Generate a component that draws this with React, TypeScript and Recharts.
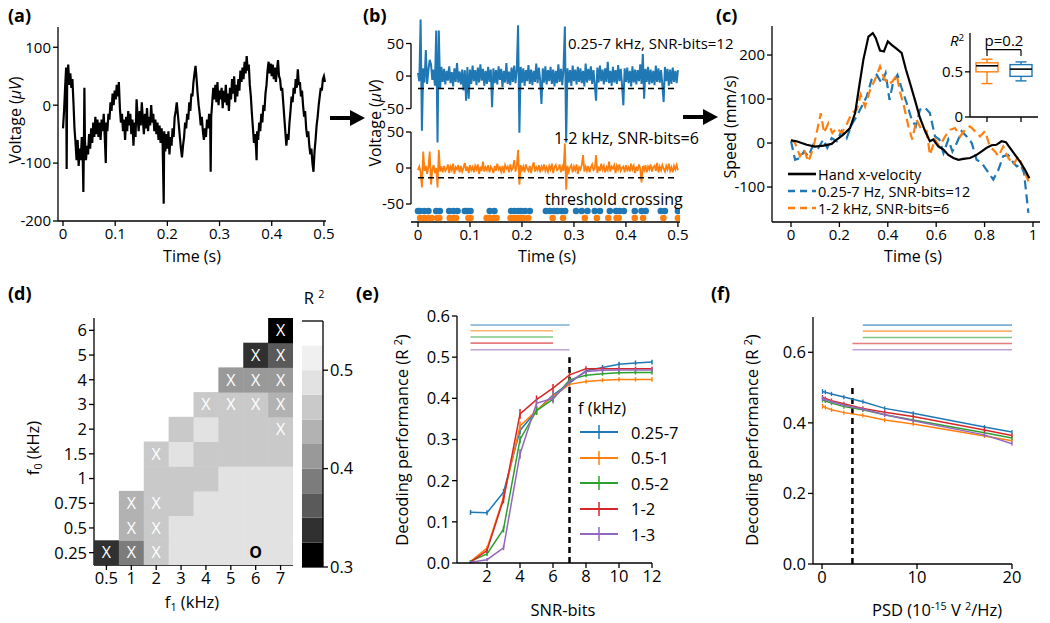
import type { ReactNode } from 'react'
import {
	Bar,
	BarChart,
	ComposedChart,
	ErrorBar,
	Line,
	LineChart,
	ReferenceLine,
	Scatter,
	ScatterChart,
	XAxis,
	YAxis
} from 'recharts'

const FONT = '"Open Sans", "Noto Sans", sans-serif'
const BLUE = '#1f77b4'
const ORANGE = '#ff7f0e'
const GREEN = '#2ca02c'
const RED = '#d62728'
const PURPLE = '#9467bd'
const SERIES_COLORS = [BLUE, ORANGE, GREEN, RED, PURPLE]
const TICK_TOP = 15
const TICK_BOT = 16.5

// ---------- (a) raw voltage trace: [time s, voltage uV]
const traceA: [number, number][] = [
	[0, -40], [0.002, -10], [0.004, 30], [0.006, 65], [0.007, -110], [0.008, 45], [0.01, 70], [0.012, 35],
	[0.014, 55], [0.016, 30], [0.018, 45], [0.02, 5], [0.022, -40], [0.024, -65], [0.026, -95], [0.028, -60],
	[0.03, -105], [0.032, -75], [0.034, -95], [0.036, -55], [0.038, -100], [0.039, -150], [0.04, -70], [0.041, 30],
	[0.042, -60], [0.044, -95], [0.046, -70], [0.048, -85], [0.05, -50], [0.052, -75], [0.054, -40], [0.056, -65],
	[0.058, -30], [0.06, -55], [0.062, -20], [0.064, -50], [0.066, -25], [0.068, -55], [0.07, -30], [0.072, -60],
	[0.074, -25], [0.076, -45], [0.078, -15], [0.08, -55], [0.082, -100], [0.083, -30], [0.085, -45], [0.087, -15],
	[0.089, -25], [0.091, 5], [0.093, -10], [0.095, 20], [0.097, 0], [0.099, 25], [0.101, 10], [0.103, 35],
	[0.105, 15], [0.107, 40], [0.109, -5], [0.111, -30], [0.113, -15], [0.115, -45], [0.117, -25], [0.119, -60],
	[0.121, -20], [0.123, -45], [0.125, -10], [0.127, -35], [0.129, -15], [0.131, -50], [0.133, -25], [0.135, -70],
	[0.137, -30], [0.139, -55], [0.141, 10], [0.143, -20], [0.145, -45], [0.147, -10], [0.149, -35], [0.151, 5],
	[0.153, -25], [0.155, -50], [0.157, -15], [0.159, -40], [0.161, -5], [0.163, -45], [0.165, -20], [0.167, -35],
	[0.169, 0], [0.171, -30], [0.173, -15], [0.175, -45], [0.177, -25], [0.179, -50], [0.181, -30], [0.183, -60],
	[0.185, -35], [0.187, -65], [0.189, -40], [0.191, -70], [0.193, -170], [0.194, -45], [0.196, -80], [0.198, -50],
	[0.2, -75], [0.202, -45], [0.204, -85], [0.206, -55], [0.208, -70], [0.21, -40], [0.212, -55], [0.214, -20],
	[0.216, -10], [0.218, 5], [0.22, -15], [0.222, -35], [0.224, -55], [0.226, -75], [0.228, -90], [0.23, -70],
	[0.232, -55], [0.234, -30], [0.236, -40], [0.238, -15], [0.24, -25], [0.242, 5], [0.244, -10], [0.246, 20],
	[0.248, 15], [0.25, 40], [0.252, 55], [0.254, 68], [0.256, 45], [0.258, 20], [0.26, 0], [0.262, -15],
	[0.264, -35], [0.266, -20], [0.268, -45], [0.27, -60], [0.272, -40], [0.274, -55], [0.276, -25], [0.278, -40],
	[0.28, -15], [0.282, -30], [0.283, -115], [0.284, -20], [0.286, 5], [0.288, 30], [0.29, 10], [0.292, 35],
	[0.294, 5], [0.296, 40], [0.298, 0], [0.3, 25], [0.302, 10], [0.304, 30], [0.306, -5], [0.308, 25],
	[0.31, 5], [0.312, 35], [0.314, 0], [0.316, 20], [0.318, -10], [0.32, 30], [0.322, 10], [0.324, 45],
	[0.326, 20], [0.328, 50], [0.33, 5], [0.332, 35], [0.334, 15], [0.336, 45], [0.338, 25], [0.34, 60],
	[0.342, 40], [0.344, 65], [0.346, 45], [0.348, 75], [0.35, 55], [0.352, 85], [0.354, 60], [0.356, 70],
	[0.358, 35], [0.36, 15], [0.362, -15], [0.364, -40], [0.366, -65], [0.368, -50], [0.37, -75], [0.371, -95],
	[0.372, -45], [0.374, -60], [0.376, -30], [0.378, -45], [0.38, -15], [0.382, -30], [0.384, 0], [0.386, -10],
	[0.388, 20], [0.39, 35], [0.392, 60], [0.394, 75], [0.396, 55], [0.398, 72], [0.4, 50], [0.402, 70],
	[0.404, 45], [0.406, 65], [0.408, 40], [0.41, 60], [0.412, 78], [0.414, 50], [0.416, 45], [0.418, 25],
	[0.42, 30], [0.422, 5], [0.424, -20], [0.426, -45], [0.428, -70], [0.43, -50], [0.432, -60], [0.434, -30],
	[0.436, -10], [0.438, 15], [0.44, 5], [0.442, 30], [0.444, 20], [0.446, 45], [0.448, 30], [0.45, 62],
	[0.452, 35], [0.454, 40], [0.456, 15], [0.458, 25], [0.46, 0], [0.462, -20], [0.464, -10], [0.466, -40],
	[0.468, -55], [0.47, -45], [0.472, -70], [0.474, -85], [0.476, -75], [0.478, -100], [0.48, -115], [0.482, -80],
	[0.484, -60], [0.486, -35], [0.488, -20], [0.49, 0], [0.492, 15], [0.494, 30], [0.496, 25], [0.498, 45],
	[0.5, 50], [0.502, 40]
]
const timeTicks = [0, 0.1, 0.2, 0.3, 0.4, 0.5]

// ---------- (b) band-limited traces, sampled every 2.5 ms
const bSampleStep = 0.0025
const bandWide = [
	5, -8, 87, -84, 12, -10, 40, -12, 9, 25, 18, -6, 10, -15, 70, -102, 70, -20, 14, -9,
	11, -13, 8, -7, 15, -11, 6, -16, 12, -9, 20, -10, 7, -13, 10, -22, 9, -38, 14, -35,
	10, -12, 16, -8, 9, -14, 13, -10, 18, -7, 11, -15, 8, -12, 14, -9, 10, -48, 12, -11,
	9, -13, 15, -6, 11, -17, 8, -10, 20, -12, 7, -14, 13, -9, 16, -11, 10, 78, -87, 14,
	-10, 12, -15, 9, -8, 17, -12, 10, -14, 8, -9, 19, -11, 13, -7, -43, 12, -10, 15, -13,
	9, -8, 14, -12, 10, -16, 8, -11, 18, -9, 11, -14, 13, 76, -102, 12, -10, 9, -15, 16,
	-8, 10, -13, 14, -9, 12, -11, 8, -16, 19, -10, 11, -7, 15, -12, 9, -14, -38, 13, -10,
	16, -8, 10, -13, 12, -9, 22, -11, 8, -15, 14, -10, 9, -12, 17, -8, 11, -14, -45, 12,
	-9, 13, -11, 8, -16, 15, -10, 10, -13, 9, -8, 18, -12, 34, -35, 11, -9, 14, -13, 10,
	-11, 8, -14, 16, -9, 12, -10, 9, -13, -40, 14, -8, 11, -15, 10, -12, 13, -9, 8, -11, 9
]
const bandNarrow = [
	-3, 2, -6, -27, 23, -4, 3, -8, 1, 23, -23, -2, 4, -7, 0, -27, 25, -5, 2, -6,
	3, -4, -1, 5, -7, 2, -3, 6, -8, 1, -2, 4, -6, 3, -5, 0, 7, -4, 2, -7,
	4, -3, 1, -6, 3, -2, 5, -8, 2, -4, 9, -5, 1, -3, 4, -6, 2, -1, -7, 3,
	-4, 6, -2, 1, -5, 3, -7, 4, -1, 2, -6, 5, -3, 0, 11, -5, 3, 25, -23, 4,
	-3, 2, -6, 5, -1, -4, 3, -7, 2, 8, -5, 1, -3, 4, -6, 2, -2, 5, -4, 1,
	-5, 3, -2, 6, -7, 1, 4, -3, -1, 5, -6, 2, -4, 34, -30, 3, -5, 1, 4, -6,
	2, -3, 5, -8, 1, -2, 4, 18, -5, 2, -4, 3, -6, 1, 5, -3, -1, 18, -7, 2,
	-4, 6, -2, 3, -6, 1, -3, 9, -5, 2, -1, 4, -7, 3, -2, 5, -4, 0, 2, -6,
	4, -3, 1, -5, 6, -2, 3, -7, 2, -4, 5, -1, -20, 3, -3, 4, -6, 2, -2, 5,
	-5, 1, 3, -4, 7, -6, 2, -3, 4, -1, -5, 3, -2, 6, -4, 1, -6, 3, -2, 4, -3
]
const thresholdWide = -19
const thresholdNarrow = -13.5
const crossingsWide = [
	0, 0.004, 0.012, 0.02, 0.035, 0.042, 0.06, 0.068, 0.076, 0.09, 0.095, 0.101, 0.138, 0.147, 0.179, 0.186,
	0.193, 0.199, 0.206, 0.215, 0.246, 0.254, 0.262, 0.268, 0.276, 0.283, 0.304, 0.315, 0.326, 0.34, 0.35,
	0.369, 0.381, 0.388, 0.396, 0.417, 0.43, 0.438, 0.467, 0.475, 0.5
]
const crossingsNarrow = [
	0.004, 0.012, 0.02, 0.026, 0.037, 0.041, 0.061, 0.069, 0.073, 0.097, 0.101, 0.132, 0.138, 0.146, 0.151,
	0.178, 0.183, 0.19, 0.196, 0.202, 0.212, 0.259, 0.279, 0.321, 0.344, 0.366, 0.382, 0.386, 0.417, 0.433,
	0.472, 0.5
]

// ---------- (c) decoded hand velocity: [time s, speed mm/s]
const handVelocity: [number, number][] = [
	[0, 6], [0.023, 4], [0.065, -4], [0.099, -8], [0.134, -6], [0.168, -2], [0.189, 8], [0.216, 19], [0.244, 34],
	[0.265, 68], [0.282, 129], [0.299, 189], [0.32, 242], [0.338, 250], [0.35, 239], [0.368, 210], [0.384, 208],
	[0.4, 231], [0.416, 223], [0.437, 214], [0.457, 205], [0.475, 167], [0.492, 136], [0.512, 98], [0.533, 57],
	[0.554, 27], [0.574, 4], [0.588, 8], [0.609, -8], [0.63, -15], [0.65, -27], [0.671, -34], [0.692, -38],
	[0.712, -36], [0.74, -34], [0.767, -27], [0.788, -19], [0.808, -11], [0.829, -5], [0.849, -4], [0.87, 4],
	[0.888, 2], [0.905, -11], [0.926, -27], [0.946, -42], [0.967, -61], [0.985, -80]
]
const decodedWide: [number, number][] = [
	[0, 4], [0.017, -38], [0.037, -34], [0.054, -19], [0.072, -30], [0.092, -4], [0.113, -11], [0.134, 8],
	[0.15, -11], [0.168, 11], [0.189, 4], [0.209, 27], [0.23, 11], [0.251, 42], [0.272, 61], [0.292, 83],
	[0.313, 106], [0.333, 144], [0.354, 155], [0.375, 136], [0.391, 159], [0.407, 98], [0.423, 140], [0.44, 155],
	[0.457, 125], [0.478, 91], [0.499, 53], [0.516, 38], [0.533, 76], [0.554, 80], [0.574, 68], [0.595, 15],
	[0.613, 8], [0.63, -23], [0.65, 8], [0.667, -19], [0.685, 0], [0.705, 27], [0.726, 15], [0.747, 0],
	[0.767, -38], [0.788, -45], [0.808, -61], [0.836, -83], [0.857, -61], [0.877, -30], [0.898, -27],
	[0.919, -45], [0.933, -53], [0.949, -49], [0.963, -68], [0.981, -159]
]
const decodedNarrow: [number, number][] = [
	[0, 8], [0.017, 0], [0.037, -30], [0.054, -15], [0.072, -42], [0.092, -11], [0.106, 23], [0.123, 68],
	[0.137, 23], [0.154, 45], [0.171, 23], [0.189, 34], [0.209, 23], [0.23, 42], [0.251, 68], [0.272, 76],
	[0.288, 110], [0.306, 83], [0.327, 121], [0.347, 144], [0.368, 174], [0.384, 148], [0.402, 133], [0.42, 140],
	[0.437, 155], [0.45, 117], [0.467, 83], [0.485, 38], [0.501, 8], [0.519, 53], [0.536, 34], [0.561, 27],
	[0.574, -27], [0.595, 8], [0.613, -8], [0.637, 15], [0.657, 30], [0.678, 34], [0.699, 15], [0.719, 30],
	[0.74, 38], [0.76, 27], [0.781, 15], [0.802, 27], [0.822, -8], [0.843, -19], [0.857, -30], [0.877, -8],
	[0.898, -34], [0.919, -49], [0.94, -30], [0.96, -57], [0.981, -87]
]
const speedTicks = [-100, 0, 100, 200]
const unitTimeTicks = [0, 0.2, 0.4, 0.6, 0.8, 1]
const boxNames = ['1-2 kHz', '0.25-7 kHz']
const boxMin = [0.37, 0.4]
const boxQ1 = [0.5, 0.45]
const boxMedian = [0.567, 0.53]
const boxQ3 = [0.6, 0.58]
const boxMax = [0.64, 0.61]
const boxColors = [ORANGE, BLUE]
const pBracket = 0.745

// ---------- (d) R^2 over band edges
const f1Labels = ['0.5', '1', '2', '3', '4', '5', '6', '7']
const f0Labels = ['0.25', '0.5', '0.75', '1', '1.5', '2', '3', '4', '5', '6']
const r2Grid: (number | null)[][] = [
	[0.335, 0.39, 0.465, 0.49, 0.49, 0.49, 0.49, 0.49],
	[null, 0.44, 0.465, 0.49, 0.49, 0.49, 0.49, 0.49],
	[null, 0.44, 0.465, 0.465, 0.49, 0.49, 0.49, 0.49],
	[null, null, 0.465, 0.465, 0.465, 0.49, 0.49, 0.49],
	[null, null, 0.465, 0.49, 0.465, 0.465, 0.465, 0.465],
	[null, null, null, 0.465, 0.49, 0.465, 0.465, 0.465],
	[null, null, null, null, 0.47, 0.47, 0.47, 0.44],
	[null, null, null, null, null, 0.415, 0.415, 0.415],
	[null, null, null, null, null, null, 0.335, 0.36],
	[null, null, null, null, null, null, null, 0.31]
]
const markGrid = [
	'XXX---O-',
	'-XX-----',
	'-XX-----',
	'--------',
	'--X-----',
	'-------X',
	'----XXXX',
	'-----XXX',
	'------XX',
	'-------X'
]
const cbBounds = [0.3, 0.325, 0.35, 0.375, 0.4, 0.425, 0.45, 0.475, 0.5, 0.525, 0.55]
const grays = ['#000000', '#303030', '#5a5a5a', '#7c7c7c', '#999999', '#b2b2b2', '#c9c9c9', '#e2e2e2', '#f0f0f0', '#ffffff']

// ---------- (e) R^2 vs SNR-bits
const bandLabels = ['0.25-7', '0.5-1', '0.5-2', '1-2', '1-3']
const snrBits = [1, 2, 3, 4, 5, 6, 7, 8, 9, 10, 11, 12]
const r2Snr = [
	[0.123, 0.122, 0.172, 0.322, 0.37, 0.408, 0.437, 0.467, 0.475, 0.483, 0.486, 0.488],
	[0.004, 0.036, 0.16, 0.333, 0.37, 0.405, 0.434, 0.441, 0.444, 0.446, 0.446, 0.446],
	[0.004, 0.022, 0.082, 0.3, 0.37, 0.398, 0.445, 0.456, 0.46, 0.462, 0.463, 0.463],
	[0.002, 0.03, 0.155, 0.362, 0.397, 0.425, 0.457, 0.472, 0.472, 0.472, 0.472, 0.472],
	[0.002, 0.008, 0.037, 0.265, 0.388, 0.4, 0.44, 0.465, 0.468, 0.469, 0.469, 0.469]
]
const errSnr = [
	[0.006, 0.006, 0.008, 0.01, 0.01, 0.008, 0.006, 0.006, 0.006, 0.006, 0.006, 0.006],
	[0.003, 0.006, 0.008, 0.01, 0.01, 0.008, 0.006, 0.005, 0.005, 0.005, 0.005, 0.005],
	[0.003, 0.005, 0.008, 0.01, 0.01, 0.008, 0.006, 0.005, 0.005, 0.005, 0.005, 0.005],
	[0.003, 0.006, 0.01, 0.012, 0.01, 0.01, 0.006, 0.006, 0.005, 0.005, 0.005, 0.005],
	[0.003, 0.004, 0.006, 0.012, 0.01, 0.012, 0.006, 0.006, 0.005, 0.005, 0.005, 0.005]
]
const sigSnrLevel = [0.578, 0.564, 0.549, 0.534, 0.518]
const sigSnrEnd = [7, 6, 6, 6, 7]
const snrCut = 7

// ---------- (f) R^2 vs noise PSD
const psd = [0.05, 0.35, 1.0, 2.3, 4.3, 6.6, 9.6, 17.1, 20]
const r2Psd = [
	[0.489, 0.487, 0.482, 0.473, 0.46, 0.441, 0.427, 0.388, 0.374],
	[0.447, 0.444, 0.437, 0.429, 0.421, 0.408, 0.397, 0.363, 0.349],
	[0.465, 0.462, 0.456, 0.446, 0.437, 0.423, 0.408, 0.372, 0.357],
	[0.472, 0.469, 0.463, 0.454, 0.441, 0.43, 0.418, 0.38, 0.364],
	[0.469, 0.466, 0.46, 0.45, 0.439, 0.423, 0.406, 0.366, 0.341]
]
const errPsd = [
	[0.007, 0.006, 0.006, 0.006, 0.006, 0.006, 0.006, 0.006, 0.006],
	[0.007, 0.006, 0.006, 0.006, 0.006, 0.006, 0.006, 0.006, 0.006],
	[0.007, 0.006, 0.006, 0.006, 0.006, 0.006, 0.006, 0.006, 0.006],
	[0.007, 0.006, 0.006, 0.006, 0.006, 0.006, 0.006, 0.007, 0.006],
	[0.007, 0.006, 0.006, 0.006, 0.006, 0.006, 0.006, 0.006, 0.006]
]
const sigPsdLevel = [0.677, 0.66, 0.642, 0.625, 0.607]
const sigPsdStart = [4.3, 4.3, 4.3, 3.2, 3.2]
const psdCut = 3.2

// ---------- layout helpers
const PAD_L = 70
const PAD_T = 16
const PAD_R = 12
const PAD_B = 50
const XH = 30

function frame(L: number, T: number, R: number, B: number, showX = true) {
	return {
		style: { position: 'absolute' as const, left: L - PAD_L, top: T - PAD_T },
		width: R - L + PAD_L + PAD_R,
		height: B - T + PAD_T + PAD_B,
		margin: { top: PAD_T, right: PAD_R, left: 0, bottom: showX ? PAD_B - XH : PAD_B }
	}
}

const line = { stroke: '#000', strokeWidth: 1.3 }
const xProps = (size: number) => ({
	type: 'number' as const,
	height: XH,
	axisLine: line,
	tickLine: line,
	tickSize: 5,
	interval: 0 as const,
	allowDataOverflow: true,
	tick: { fill: '#000', fontSize: size, fontFamily: FONT }
})
const yProps = (size: number) => ({
	type: 'number' as const,
	width: PAD_L,
	axisLine: line,
	tickLine: line,
	tickSize: 5,
	interval: 0 as const,
	allowDataOverflow: true,
	tick: { fill: '#000', fontSize: size, fontFamily: FONT }
})

const Txt = ({
	x, y, size = 16, rotate = false, start = false, bold = false, children
}: { x: number, y: number, size?: number, rotate?: boolean, start?: boolean, bold?: boolean, children: ReactNode }) => (
	<div
		style={{
			position: 'absolute',
			left: x,
			top: y,
			transform: `translate(${start ? '0' : '-50%'}, -50%)${rotate ? ' rotate(-90deg)' : ''}`,
			fontFamily: FONT,
			fontSize: size,
			fontWeight: bold ? 700 : 400,
			lineHeight: 1.2,
			whiteSpace: 'nowrap',
			color: '#000'
		}}
	>
		{children}
	</div>
)
const Sup = ({ children }: { children: ReactNode }) => (
	<span style={{ fontSize: '0.65em', verticalAlign: '0.55em', lineHeight: 0 }}>{children}</span>
)
const Sub = ({ children }: { children: ReactNode }) => (
	<span style={{ fontSize: '0.65em', verticalAlign: '-0.3em', lineHeight: 0 }}>{children}</span>
)

const Arrow = ({ x, y }: { x: number, y: number }) => (
	<svg style={{ position: 'absolute', left: x, top: y - 8 }} width={36} height={16}>
		<rect x={0} y={6} width={22} height={4} fill='#000' />
		<polygon points='20,0 35,8 20,16' fill='#000' />
	</svg>
)

// ---------- panels
const PanelA = () => {
	const f = frame(58, 27, 326, 221)
	const data = traceA.map(([t, v]) => ({ t, v }))
	return (
		<div style={f.style}>
			<LineChart width={f.width} height={f.height} margin={f.margin} data={data}>
				<XAxis dataKey='t' domain={[-0.0096, 0.504]} ticks={timeTicks} {...xProps(TICK_TOP)} />
				<YAxis domain={[-200, 135]} ticks={[-200, -100, 0, 100]} {...yProps(TICK_TOP)} />
				<Line dataKey='v' stroke='#000' strokeWidth={2.2} strokeLinejoin='miter' dot={false} isAnimationActive={false} />
			</LineChart>
		</div>
	)
}

const B_X0 = -0.0135
const PanelBUpper = () => {
	const f = frame(411, 10, 680, 145, false)
	const data = bandWide.map((v, i) => ({ t: i * bSampleStep, v }))
	return (
		<div style={f.style}>
			<LineChart width={f.width} height={f.height} margin={f.margin} data={data}>
				<XAxis dataKey='t' hide domain={[B_X0, 0.504]} type='number' allowDataOverflow />
				<YAxis domain={[-106, 101.5]} ticks={[-50, 0, 50]} {...yProps(TICK_TOP)} axisLine={false} />
				<ReferenceLine ifOverflow='visible' segment={[{ x: B_X0, y: -50 }, { x: B_X0, y: 50 }]} stroke='#000' strokeWidth={1.3} />
				<Line dataKey='v' stroke={BLUE} strokeWidth={2} dot={false} isAnimationActive={false} />
				<ReferenceLine
					segment={[{ x: 0, y: thresholdWide }, { x: 0.5, y: thresholdWide }]}
					stroke='#000'
					strokeWidth={1.5}
					strokeDasharray='6 4'
				/>
			</LineChart>
		</div>
	)
}

const PanelBLower = () => {
	const f = frame(411, 130, 680, 222)
	const data = bandNarrow.map((v, i) => ({ t: i * bSampleStep, v }))
	const dotsWide = crossingsWide.map((t) => ({ t, row: 2 }))
	const dotsNarrow = crossingsNarrow.map((t) => ({ t, row: 1 }))
	return (
		<div style={f.style}>
			<ComposedChart width={f.width} height={f.height} margin={f.margin}>
				<XAxis dataKey='t' domain={[B_X0, 0.504]} ticks={timeTicks} {...xProps(TICK_TOP)} />
				<YAxis yAxisId='v' domain={[-75, 52.8]} ticks={[-50, 0, 50]} {...yProps(TICK_TOP)} axisLine={false} />
				<YAxis yAxisId='dots' orientation='right' hide type='number' domain={[0.43, 13.57]} allowDataOverflow />
				<ReferenceLine yAxisId='v' ifOverflow='visible' segment={[{ x: B_X0, y: -50 }, { x: B_X0, y: 50 }]} stroke='#000' strokeWidth={1.3} />
				<Line yAxisId='v' data={data} dataKey='v' stroke={ORANGE} strokeWidth={1.8} dot={false} isAnimationActive={false} />
				<ReferenceLine
					yAxisId='v'
					segment={[{ x: 0, y: thresholdNarrow }, { x: 0.5, y: thresholdNarrow }]}
					stroke='#000'
					strokeWidth={1.5}
					strokeDasharray='6 4'
				/>
				<Scatter
					yAxisId='dots'
					data={dotsWide}
					dataKey='row'
					isAnimationActive={false}
					shape={(p: any) => <circle cx={p.cx} cy={p.cy} r={3.3} fill={BLUE} />}
				/>
				<Scatter
					yAxisId='dots'
					data={dotsNarrow}
					dataKey='row'
					isAnimationActive={false}
					shape={(p: any) => <circle cx={p.cx} cy={p.cy} r={3.3} fill={ORANGE} />}
				/>
			</ComposedChart>
		</div>
	)
}

const PanelC = () => {
	const f = frame(772, 26, 1040, 222)
	const toRows = (arr: [number, number][]) => arr.map(([t, v]) => ({ t, v }))
	return (
		<div style={f.style}>
			<LineChart width={f.width} height={f.height} margin={f.margin}>
				<XAxis dataKey='t' domain={[-0.0785, 1.029]} ticks={unitTimeTicks} {...xProps(TICK_TOP)} />
				<YAxis domain={[-179.5, 266]} ticks={speedTicks} {...yProps(TICK_TOP)} />
				<Line data={toRows(decodedWide)} dataKey='v' stroke={BLUE} strokeWidth={2.2} strokeDasharray='9 5' dot={false} isAnimationActive={false} />
				<Line data={toRows(decodedNarrow)} dataKey='v' stroke={ORANGE} strokeWidth={2.2} strokeDasharray='9 5' dot={false} isAnimationActive={false} />
				<Line data={toRows(handVelocity)} dataKey='v' stroke='#000' strokeWidth={2.2} dot={false} isAnimationActive={false} />
			</LineChart>
		</div>
	)
}

const BoxShape = (p: any) => {
	const { x, y, width, height, payload, index } = p
	const top = Math.min(y, y + height)
	const h = Math.abs(height)
	const py = (v: number) => top + ((payload.max - v) / (payload.max - payload.min)) * h
	const cx = x + width / 2
	const color = boxColors[index]
	return (
		<g>
			<line x1={cx} x2={cx} y1={py(payload.max)} y2={py(payload.q3)} stroke={color} strokeWidth={1.4} />
			<line x1={cx} x2={cx} y1={py(payload.q1)} y2={py(payload.min)} stroke={color} strokeWidth={1.4} />
			<line x1={cx - width / 4} x2={cx + width / 4} y1={py(payload.max)} y2={py(payload.max)} stroke={color} strokeWidth={1.4} />
			<line x1={cx - width / 4} x2={cx + width / 4} y1={py(payload.min)} y2={py(payload.min)} stroke={color} strokeWidth={1.4} />
			<rect x={x} y={py(payload.q3)} width={width} height={py(payload.q1) - py(payload.q3)} fill='#fff' stroke={color} strokeWidth={1.4} />
			<line x1={x} x2={x + width} y1={py(payload.med)} y2={py(payload.med)} stroke='#000' strokeWidth={1.6} />
		</g>
	)
}

const PanelCInset = () => {
	const f = frame(970, 33, 1038, 117)
	const data = boxNames.map((name, i) => ({
		name, min: boxMin[i], q1: boxQ1[i], med: boxMedian[i], q3: boxQ3[i], max: boxMax[i]
	}))
	return (
		<div style={f.style}>
			<ComposedChart width={f.width} height={f.height} margin={f.margin} data={data}>
				<XAxis dataKey='name' {...xProps(TICK_TOP)} type='category' tickFormatter={() => ''} />
				<YAxis domain={[0, 0.93]} ticks={[0, 0.5]} {...yProps(TICK_TOP)} />
				<Bar dataKey={(d: any) => [d.min, d.max]} barSize={22} shape={BoxShape} isAnimationActive={false} />
				<ReferenceLine segment={[{ x: boxNames[0], y: pBracket }, { x: boxNames[1], y: pBracket }]} stroke='#000' strokeWidth={1.2} />
				<ReferenceLine segment={[{ x: boxNames[0], y: pBracket }, { x: boxNames[0], y: 0.675 }]} stroke='#000' strokeWidth={1.2} />
				<ReferenceLine segment={[{ x: boxNames[1], y: pBracket }, { x: boxNames[1], y: 0.675 }]} stroke='#000' strokeWidth={1.2} />
			</ComposedChart>
		</div>
	)
}

const grayOf = (v: number) => {
	let lvl = 0
	for (let i = 0; i < cbBounds.length - 1; i++) if (v >= cbBounds[i]) lvl = i
	return grays[lvl]
}

const HM = { L: 94, T: 318, R: 293, B: 565 }
const CELL_W = (HM.R - HM.L) / f1Labels.length
const CELL_H = (HM.B - HM.T) / f0Labels.length

const CellShape = (p: any) => {
	const { cx, cy, payload } = p
	return (
		<g>
			<rect x={cx - CELL_W / 2} y={cy - CELL_H / 2} width={CELL_W + 0.5} height={CELL_H + 0.5} fill={grayOf(payload.r2)} />
			{payload.mark !== '-' && (
				<text
					x={cx}
					y={cy}
					dy='0.36em'
					textAnchor='middle'
					fill={payload.mark === 'O' ? '#000' : '#fff'}
					fontSize={16}
					fontWeight={payload.mark === 'O' ? 700 : 400}
					fontFamily={FONT}
				>
					{payload.mark}
				</text>
			)}
		</g>
	)
}

const PanelD = () => {
	const f = frame(HM.L, HM.T, HM.R, HM.B)
	const cells: { col: number, row: number, r2: number, mark: string }[] = []
	r2Grid.forEach((rowVals, row) => rowVals.forEach((r2, col) => {
		if (r2 !== null) cells.push({ col, row, r2, mark: markGrid[row][col] })
	}))
	return (
		<div style={f.style}>
			<ScatterChart width={f.width} height={f.height} margin={f.margin}>
				<XAxis dataKey='col' domain={[-0.5, 7.5]} ticks={[0, 1, 2, 3, 4, 5, 6, 7]} tickFormatter={(i: number) => f1Labels[i]} {...xProps(TICK_BOT)} />
				<YAxis dataKey='row' domain={[-0.5, 9.5]} ticks={[0, 1, 2, 3, 4, 5, 6, 7, 8, 9]} tickFormatter={(i: number) => f0Labels[i]} {...yProps(TICK_BOT)} />
				<Scatter data={cells} shape={CellShape} isAnimationActive={false} />
			</ScatterChart>
		</div>
	)
}

// colour bar: one stacked bar, a hidden base up to the lowest level, then one segment per grey level
const Colorbar = () => {
	const L = 302
	const T = 321
	const R = 323
	const B = 567
	const pad = 14
	const row: Record<string, number | string> = { name: 'R2', base: cbBounds[0] }
	grays.forEach((_, i) => { row[`l${i}`] = cbBounds[i + 1] - cbBounds[i] })
	return (
		<div style={{ position: 'absolute', left: L, top: T - pad }}>
			<BarChart
				width={R - L + 50}
				height={B - T + 2 * pad}
				margin={{ top: pad, bottom: pad, left: 0, right: 10 }}
				data={[row]}
				barCategoryGap={0}
				barGap={0}
			>
				<XAxis dataKey='name' type='category' hide />
				<YAxis yAxisId='edge' orientation='left' type='number' domain={[0.3, 0.55]} width={0} tick={false} tickLine={false} axisLine={line} />
				<YAxis orientation='right' domain={[0.3, 0.55]} ticks={[0.3, 0.4, 0.5]} {...yProps(TICK_BOT)} width={40} />
				<Bar dataKey='base' stackId='cb' fill='none' isAnimationActive={false} />
				{grays.map((g, i) => (
					<Bar key={g} dataKey={`l${i}`} stackId='cb' fill={g} isAnimationActive={false} />
				))}
				<ReferenceLine y={0.55} stroke='#000' strokeWidth={1.3} />
				<ReferenceLine y={0.3} stroke='#000' strokeWidth={1.3} />
			</BarChart>
		</div>
	)
}

const PanelE = () => {
	const f = frame(457, 316, 652, 563)
	const data = snrBits.map((x, i) => {
		const row: Record<string, number> = { x }
		r2Snr.forEach((s, k) => { row[`s${k}`] = s[i]; row[`e${k}`] = errSnr[k][i] })
		return row
	})
	return (
		<div style={f.style}>
			<LineChart width={f.width} height={f.height} margin={f.margin} data={data}>
				<XAxis dataKey='x' domain={[0.18, 12]} ticks={[2, 4, 6, 8, 10, 12]} {...xProps(TICK_BOT)} />
				<YAxis domain={[0, 0.6]} ticks={[0, 0.1, 0.2, 0.3, 0.4, 0.5, 0.6]} tickFormatter={(v: number) => v.toFixed(1)} {...yProps(TICK_BOT)} />
				{sigSnrLevel.map((y, k) => (
					<ReferenceLine key={`sig${k}`} segment={[{ x: 1, y }, { x: sigSnrEnd[k], y }]} stroke={SERIES_COLORS[k]} strokeOpacity={0.6} strokeWidth={1.6} />
				))}
				<ReferenceLine segment={[{ x: snrCut, y: 0 }, { x: snrCut, y: 0.5 }]} stroke='#000' strokeWidth={2.5} strokeDasharray='6 4' />
				{r2Snr.map((_, k) => (
					<Line key={k} dataKey={`s${k}`} stroke={SERIES_COLORS[k]} strokeWidth={1.5} dot={false} isAnimationActive={false}>
						<ErrorBar dataKey={`e${k}`} width={0} stroke={SERIES_COLORS[k]} strokeWidth={1.5} direction='y' />
					</Line>
				))}
			</LineChart>
		</div>
	)
}

const PanelF = () => {
	const f = frame(813, 317, 1012, 564)
	const data = psd.map((x, i) => {
		const row: Record<string, number> = { x }
		r2Psd.forEach((s, k) => { row[`s${k}`] = s[i]; row[`e${k}`] = errPsd[k][i] })
		return row
	})
	return (
		<div style={f.style}>
			<LineChart width={f.width} height={f.height} margin={f.margin} data={data}>
				<XAxis dataKey='x' domain={[-0.95, 20]} ticks={[0, 10, 20]} {...xProps(TICK_BOT)} />
				<YAxis domain={[0, 0.7]} ticks={[0, 0.2, 0.4, 0.6]} tickFormatter={(v: number) => v.toFixed(1)} {...yProps(TICK_BOT)} />
				{sigPsdLevel.map((y, k) => (
					<ReferenceLine key={`sig${k}`} segment={[{ x: sigPsdStart[k], y }, { x: 20, y }]} stroke={SERIES_COLORS[k]} strokeOpacity={0.6} strokeWidth={1.6} />
				))}
				<ReferenceLine segment={[{ x: psdCut, y: 0 }, { x: psdCut, y: 0.5 }]} stroke='#000' strokeWidth={2.5} strokeDasharray='6 4' />
				{r2Psd.map((_, k) => (
					<Line key={k} dataKey={`s${k}`} stroke={SERIES_COLORS[k]} strokeWidth={1.5} dot={false} isAnimationActive={false}>
						<ErrorBar dataKey={`e${k}`} width={0} stroke={SERIES_COLORS[k]} strokeWidth={1.3} direction='y' />
					</Line>
				))}
			</LineChart>
		</div>
	)
}

const LegendC = () => {
	const rows = [
		{ label: 'Hand x-velocity', color: '#000', dash: undefined },
		{ label: '0.25-7 Hz, SNR-bits=12', color: BLUE, dash: '7 5' },
		{ label: '1-2 kHz, SNR-bits=6', color: ORANGE, dash: '7 5' }
	]
	return (
		<>
			{rows.map((r, i) => (
				<div key={r.label} style={{ position: 'absolute', left: 788, top: 174 + i * 17 - 8, height: 16, display: 'flex', alignItems: 'center' }}>
					<svg width={28} height={6}><line x1={0} x2={28} y1={3} y2={3} stroke={r.color} strokeWidth={2.6} strokeDasharray={r.dash} /></svg>
					<span style={{ fontFamily: FONT, fontSize: 14.5, lineHeight: '15px', marginLeft: 2, whiteSpace: 'nowrap' }}>{r.label}</span>
				</div>
			))}
		</>
	)
}

const LegendE = () => (
	<>
		<Txt x={602} y={408} size={16.5}>f (kHz)</Txt>
		{bandLabels.map((label, k) => (
			<div key={label} style={{ position: 'absolute', left: 580, top: 432 + k * 25.5 - 10, height: 20, display: 'flex', alignItems: 'center' }}>
				<svg width={38} height={16}>
					<line x1={0} x2={38} y1={8} y2={8} stroke={SERIES_COLORS[k]} strokeWidth={2} />
					<line x1={19} x2={19} y1={1} y2={15} stroke={SERIES_COLORS[k]} strokeWidth={1.5} />
				</svg>
				<span style={{ fontFamily: FONT, fontSize: 16.5, marginLeft: 13, whiteSpace: 'nowrap' }}>{label}</span>
			</div>
		))}
	</>
)

export default function App() {
	return (
		<div style={{ position: 'absolute', left: 0, top: 0, width: 1050, height: 623, background: '#fff', overflow: 'hidden' }}>
			<PanelA />
			<PanelBUpper />
			<PanelBLower />
			<PanelC />
			<PanelCInset />
			<PanelD />
			<Colorbar />
			<PanelE />
			<PanelF />

			<Txt x={8} y={16} size={18} bold start>(a)</Txt>
			<Txt x={363} y={16} size={18} bold start>(b)</Txt>
			<Txt x={716} y={16} size={18} bold start>(c)</Txt>
			<Txt x={8} y={294} size={18} bold start>(d)</Txt>
			<Txt x={356} y={294} size={18} bold start>(e)</Txt>
			<Txt x={711} y={294} size={18} bold start>(f)</Txt>

			<Txt x={16} y={120} rotate>Voltage (<i>μV</i>)</Txt>
			<Txt x={192} y={257}>Time (s)</Txt>
			<Txt x={376} y={123} rotate>Voltage (<i>μV</i>)</Txt>
			<Txt x={547} y={257}>Time (s)</Txt>
			<Txt x={731} y={127} rotate>Speed (mm/s)</Txt>
			<Txt x={913} y={257}>Time (s)</Txt>
			<Txt x={568} y={43} size={15} start>0.25-7 kHz, SNR-bits=12</Txt>
			<Txt x={554} y={139} start>1-2 kHz, SNR-bits=6</Txt>
			<Txt x={545} y={200} start>threshold crossing</Txt>
			<Txt x={957} y={40} size={15}><i>R</i><Sup>2</Sup></Txt>
			<Txt x={1004} y={40} size={15}>p=0.2</Txt>

			<Txt x={33} y={448} rotate size={16.5}>f<Sub>0</Sub> (kHz)</Txt>
			<Txt x={192} y={602} size={16.5}>f<Sub>1</Sub> (kHz)</Txt>
			<Txt x={314} y={298} size={16.5}>R <Sup>2</Sup></Txt>
			<Txt x={402} y={440} rotate size={16.5}>Decoding performance (R <Sup>2</Sup>)</Txt>
			<Txt x={563} y={610} size={16.5}>SNR-bits</Txt>
			<Txt x={752} y={440} rotate size={16.5}>Decoding performance (R <Sup>2</Sup>)</Txt>
			<Txt x={937} y={610} size={16.5}>PSD (10<Sup>-15</Sup> V <Sup>2</Sup>/Hz)</Txt>

			<LegendC />
			<LegendE />
			<Arrow x={330} y={118} />
			<Arrow x={683} y={117} />
		</div>
	)
}
